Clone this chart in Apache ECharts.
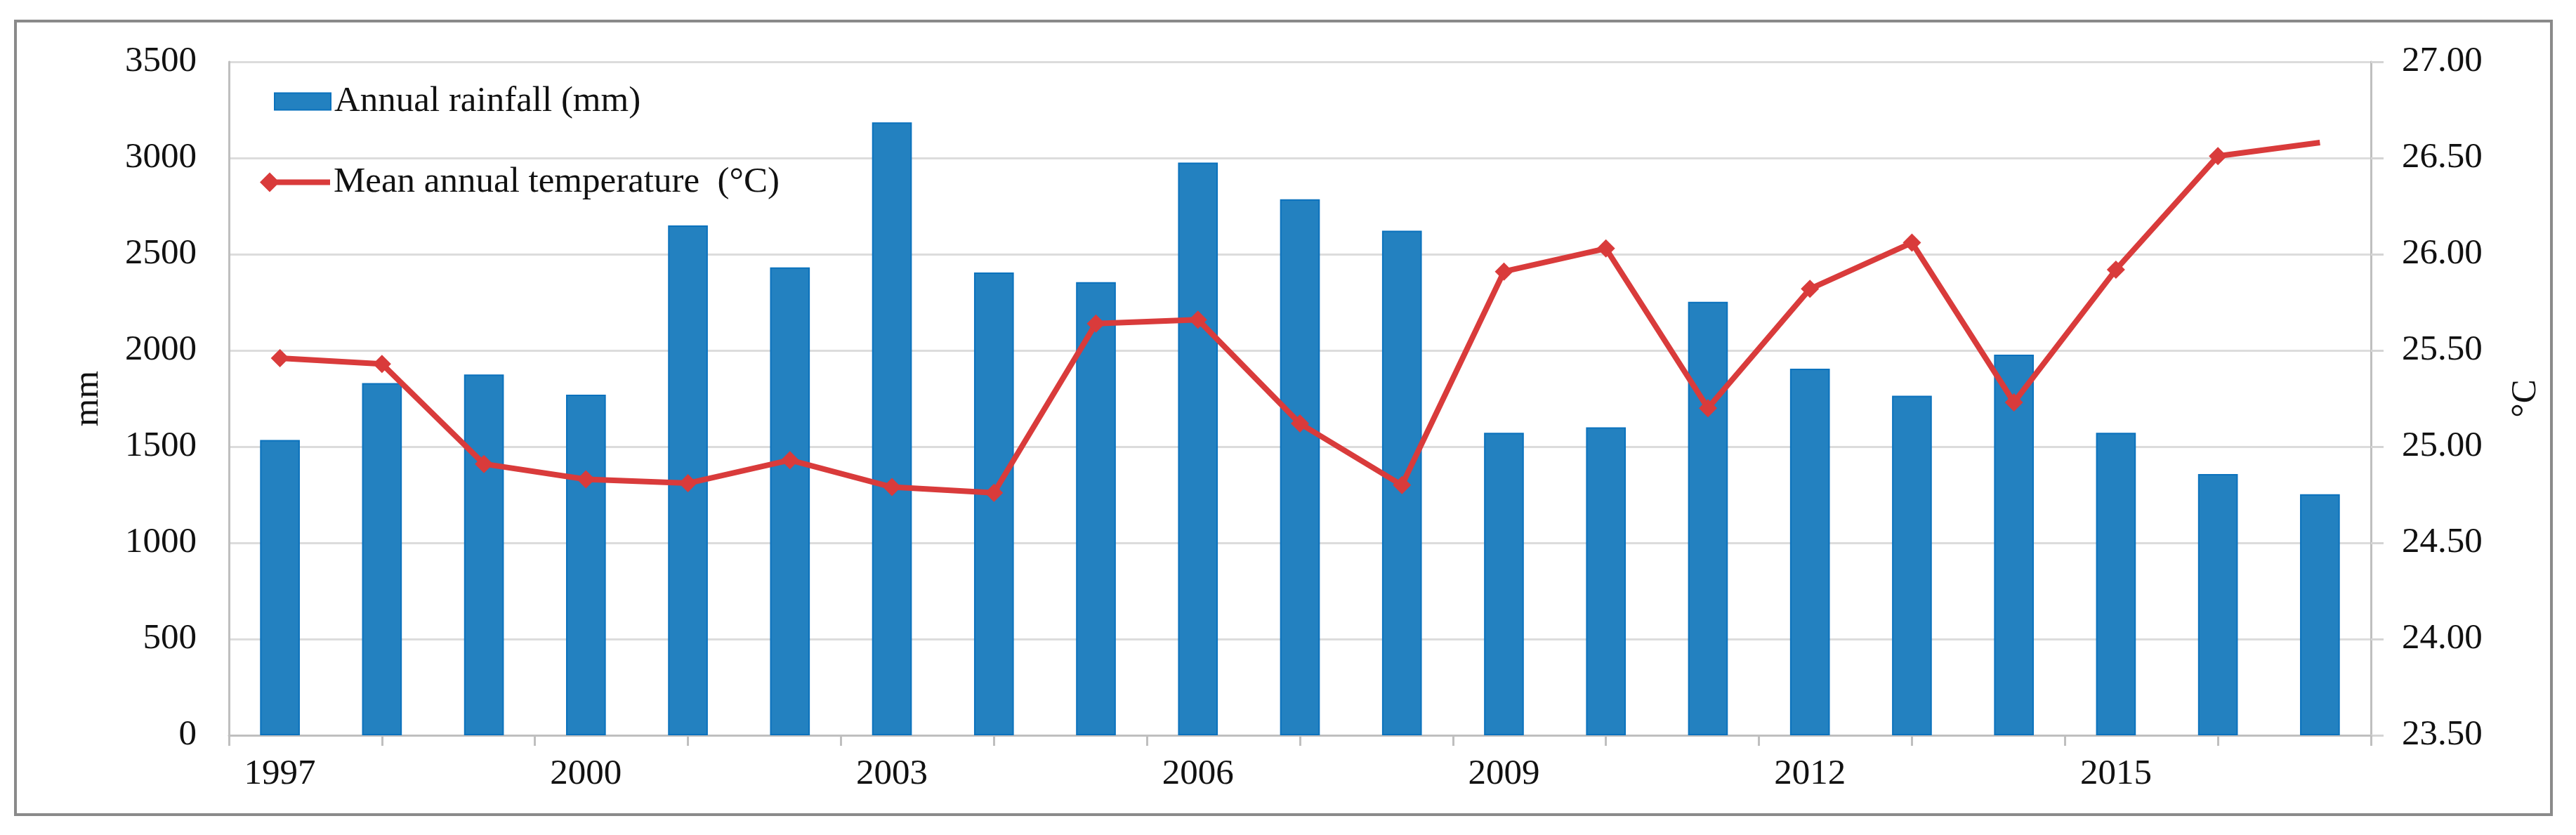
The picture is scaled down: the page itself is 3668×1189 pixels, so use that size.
<!DOCTYPE html>
<html>
<head>
<meta charset="utf-8">
<script src="https://cdn.jsdelivr.net/npm/echarts@6/dist/echarts.min.js"></script>
<style>
html,body{margin:0;padding:0;background:#fff;}
#chart{width:3668px;height:1189px;}
</style>
</head>
<body>
<div id="chart"></div>
<script>
const years = ['1997','1998','1999','2000','2001','2002','2003','2004','2005','2006','2007','2008','2009','2010','2011','2012','2013','2014','2015','2016','2017'];
const rainfall = [1535,1830,1875,1770,2650,2432,3185,2405,2355,2976,2786,2622,1572,1600,2253,1905,1765,1978,1572,1358,1253];
const temperature = [25.46,25.43,24.91,24.83,24.81,24.93,24.79,24.76,25.64,25.66,25.12,24.80,25.91,26.03,25.20,25.82,26.06,25.23,25.92,26.51,26.58];
const rainTicks = {min:0, max:3500, interval:500};
const tempTicks = {min:23.5, max:27, interval:0.5};
const seriesNames = ['Annual rainfall (mm)', 'Mean annual temperature  (°C)'];
const axisNames = ['mm', '°C'];

const FONT = 'Liberation Serif';
const FS = 51;
const chart = echarts.init(document.getElementById('chart'), null, {renderer:'canvas'});

const tempData = temperature.map((v, i) => i === temperature.length - 1 ? {value: v, symbol: 'none'} : v);

chart.setOption({
  backgroundColor: '#ffffff',
  animation: false,
  textStyle: {fontFamily: FONT},
  graphic: [{
    type: 'rect', z: -1,
    shape: {x: 22, y: 30, width: 3611, height: 1130},
    style: {fill: '#ffffff', stroke: '#8a8a8a', lineWidth: 4}
  }],
  grid: {left: 326, right: 292, top: 88, bottom: 142, containLabel: false},
  legend: [{
    data: [seriesNames[0]],
    left: 390, top: 119, padding: 0,
    icon: 'rect', itemWidth: 80, itemHeight: 24,
    textStyle: {fontFamily: FONT, fontSize: FS, color: '#111'}
  }, {
    data: [{name: seriesNames[1], icon: 'path://M0,14 L14,0 L28,14 L14,28 Z M14,10 L100,10 L100,18 L14,18 Z'}],
    left: 370, top: 234, padding: 0,
    itemWidth: 100, itemHeight: 28,
    textStyle: {fontFamily: FONT, fontSize: FS, color: '#111'}
  }],
  xAxis: [{
    type: 'category', data: years, boundaryGap: true,
    axisLine: {lineStyle: {color: '#bfbfbf', width: 3}},
    axisTick: {show: false},
    axisLabel: {interval: 2, fontFamily: FONT, fontSize: FS, color: '#111', margin: 30}
  }, {
    type: 'value', min: 0, max: years.length, interval: 1.5, position: 'bottom',
    axisLine: {show: false},
    axisTick: {show: true, length: 15, lineStyle: {color: '#bfbfbf', width: 3}},
    axisLabel: {show: false},
    splitLine: {show: false}
  }],
  yAxis: [{
    type: 'value', position: 'left',
    min: rainTicks.min, max: rainTicks.max, interval: rainTicks.interval,
    name: axisNames[0], nameLocation: 'middle', nameRotate: 90, nameGap: 175,
    nameTextStyle: {fontFamily: FONT, fontSize: FS, color: '#111'},
    axisLine: {show: true, lineStyle: {color: '#bfbfbf', width: 3}},
    axisTick: {show: false},
    axisLabel: {fontFamily: FONT, fontSize: FS, color: '#111', margin: 46,
      formatter: v => String(v)},
    splitLine: {show: true, lineStyle: {color: '#dcdcdc', width: 3}}
  }, {
    type: 'value', position: 'right',
    min: tempTicks.min, max: tempTicks.max, interval: tempTicks.interval,
    name: axisNames[1], nameLocation: 'middle', nameRotate: 90, nameGap: 195,
    nameTextStyle: {fontFamily: FONT, fontSize: FS, color: '#111'},
    axisLine: {show: true, lineStyle: {color: '#bfbfbf', width: 3}},
    axisTick: {show: true, length: 18, lineStyle: {color: '#d4d4d4', width: 3}},
    axisLabel: {fontFamily: FONT, fontSize: FS, color: '#111', margin: 44,
      formatter: v => v.toFixed(2)},
    splitLine: {show: false}
  }],
  series: [{
    name: seriesNames[0], type: 'bar', xAxisIndex: 0, yAxisIndex: 0,
    data: rainfall, barWidth: '39%',
    itemStyle: {color: '#2381c0', borderColor: '#0b72bd', borderWidth: 2}
  }, {
    name: seriesNames[1], type: 'line', xAxisIndex: 0, yAxisIndex: 1,
    data: tempData,
    symbol: 'diamond', symbolSize: 26,
    lineStyle: {color: '#d93b3b', width: 8},
    itemStyle: {color: '#d93b3b'},
    z: 5
  }]
});
</script>
</body>
</html>
